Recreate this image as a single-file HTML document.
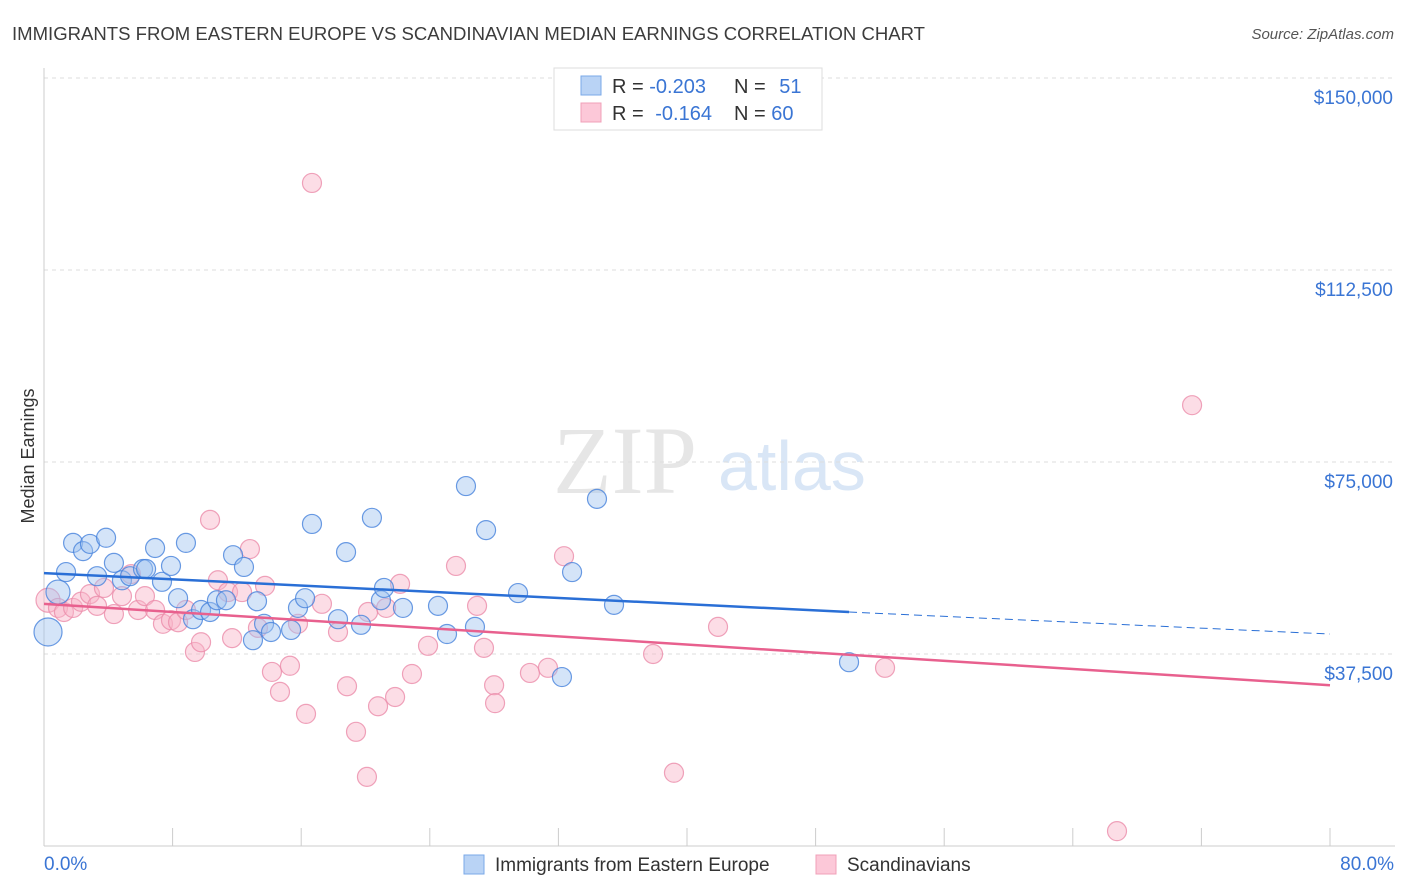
<!DOCTYPE html>
<html><head><meta charset="utf-8">
<style>
body{margin:0;background:#fff;font-family:"Liberation Sans",sans-serif;}
svg{display:block}
</style></head>
<body>
<svg id="chart" width="1406" height="892" xmlns="http://www.w3.org/2000/svg" font-family="Liberation Sans, sans-serif">
<text x="12" y="40" font-size="18" fill="#3c3c3c" textLength="913" lengthAdjust="spacingAndGlyphs">IMMIGRANTS FROM EASTERN EUROPE VS SCANDINAVIAN MEDIAN EARNINGS CORRELATION CHART</text>
<text x="1394" y="39" font-size="15" fill="#555" font-style="italic" text-anchor="end">Source: ZipAtlas.com</text>
<g>
<text x="553" y="493" font-size="96" font-family="Liberation Serif, serif" fill="#e6e6e6">ZIP</text>
<text x="718" y="490" font-size="70" fill="#d9e6f6">atlas</text>
</g>
<g id="grid"></g>
<g id="axes"></g>
<g id="marks"></g>
<text transform="translate(34,456) rotate(-90)" font-size="18" fill="#333" text-anchor="middle">Median Earnings</text>
<g>
<rect x="554" y="68" width="268" height="62" fill="#fff" stroke="#ddd"/>
<rect x="581" y="76" width="20" height="19" fill="#b9d3f5" stroke="#7aa8e8"/>
<rect x="581" y="103" width="20" height="19" fill="#fcc8d8" stroke="#f0a0b8"/>
<text x="612" y="93" font-size="20" fill="#333">R = <tspan fill="#3a75d4">-0.203</tspan></text>
<text x="734" y="93" font-size="20" fill="#333">N = <tspan fill="#3a75d4" dx="8">51</tspan></text>
<text x="612" y="120" font-size="20" fill="#333">R = <tspan fill="#3a75d4" dx="6">-0.164</tspan></text>
<text x="734" y="120" font-size="20" fill="#333">N = <tspan fill="#3a75d4">60</tspan></text>
</g>
<g>
<rect x="464" y="855" width="20" height="19" fill="#b9d3f5" stroke="#7aa8e8"/>
<text x="495" y="871" font-size="19" fill="#333">Immigrants from Eastern Europe</text>
<rect x="816" y="855" width="20" height="19" fill="#fcc8d8" stroke="#f0a0b8"/>
<text x="847" y="871" font-size="19" fill="#333">Scandinavians</text>
</g>
</svg>
<script>
const yTicks=[37500,75000,112500,150000];
const yTickLabels=["$37,500","$75,000","$112,500","$150,000"];
const xTickLabels=["0.0%","80.0%"];
const blueX=[0.87,0.25,1.37,1.81,2.43,2.86,3.30,3.86,4.35,4.85,5.35,6.16,6.35,6.91,7.34,7.90,8.34,8.83,9.27,9.77,10.33,10.76,11.32,11.76,12.44,13.25,13.69,14.12,15.37,15.80,16.24,16.67,18.29,18.79,19.72,20.40,20.96,21.15,22.33,24.51,25.07,26.25,26.81,27.50,29.49,32.85,32.22,34.40,35.46,50.08,13.0];
const blueY=[49600,41800,53500,59200,57600,59000,52700,60200,55300,51900,52700,54100,54100,58200,51600,54700,48400,59200,44300,46100,45700,48000,48000,56800,54500,47800,43400,41800,42200,46500,48400,62900,44300,57400,43200,64100,48000,50400,46500,46900,41400,70300,42800,61700,49400,53500,33000,67800,47100,35900,40200];
const blueR=[12,14,9.5,9.5,9.5,9.5,9.5,9.5,9.5,9.5,9.5,9.5,9.5,9.5,9.5,9.5,9.5,9.5,9.5,9.5,9.5,9.5,9.5,9.5,9.5,9.5,9.5,9.5,9.5,9.5,9.5,9.5,9.5,9.5,9.5,9.5,9.5,9.5,9.5,9.5,9.5,9.5,9.5,9.5,9.5,9.5,9.5,9.5,9.5,9.5,9.5];
const pinkX=[0.25,0.87,1.24,1.81,2.30,2.86,3.30,3.73,4.35,4.85,5.41,5.85,6.28,6.91,7.40,7.90,8.34,8.83,9.39,9.77,10.33,10.82,11.45,11.70,12.32,12.81,13.31,13.75,14.18,14.68,15.30,15.80,16.30,16.67,17.29,18.29,18.85,19.41,20.16,20.09,20.78,21.28,21.84,22.15,22.89,23.89,25.63,26.94,27.37,28.00,28.06,30.23,31.35,32.35,37.89,39.19,41.93,52.32,66.75,71.42];
const pinkY=[48000,46500,45700,46500,47700,49200,46900,50400,45300,48800,53100,46100,48800,46100,43400,44100,43700,46100,37900,39800,63700,51900,49600,40600,49600,58000,42600,50800,34000,30100,35200,43400,25800,129500,47300,41800,31200,22300,45700,13500,27300,46500,29100,51200,33600,39100,54700,46900,38700,31400,27900,33800,34800,56600,37500,14300,42800,34800,2900,86100];
const blueTrendX=[0,50.08,80];
const blueTrendY=[53300,45700,41400];
const pinkTrendX=[0,80];
const pinkTrendY=[47300,31400];

const NS="http://www.w3.org/2000/svg";
const X=v=>44+v/80*1286;
const Y=v=>846-v/37500*192;
function mk(t,a,p){const e=document.createElementNS(NS,t);for(const k in a)e.setAttribute(k,a[k]);p.appendChild(e);return e;}
const grid=document.getElementById('grid'),axes=document.getElementById('axes'),marks=document.getElementById('marks');
yTicks.forEach((t,i)=>{
  const l=mk('line',{x1:44,x2:1395,y1:Y(t),y2:Y(t),stroke:'#ddd','stroke-dasharray':'4,4'},grid);
  
  
  const tx=mk('text',{x:1393,y:Y(t)+26,'font-size':19,fill:'#3a75d4','text-anchor':'end'},axes);
  tx.textContent=yTickLabels[i];
  
  
});
const ax=mk('line',{x1:44,x2:1395,y1:846,y2:846,stroke:'#ccc'},axes);


const ay=mk('line',{x1:44,x2:44,y1:68,y2:846,stroke:'#ccc'},axes);


for(let i=0;i<=10;i++){
  const tk=mk('line',{x1:X(i*8),x2:X(i*8),y1:828,y2:846,stroke:'#ccc'},axes);
  
  
}
[[0,'start',44],[80,'end',1394]].forEach((d,i)=>{
  const tx=mk('text',{x:d[2],y:870,'font-size':19,fill:'#3a75d4','text-anchor':d[1]},axes);
  tx.textContent=xTickLabels[i];
  
  
});
pinkX.forEach((v,i)=>{
  const c=mk('circle',{cx:X(v),cy:Y(pinkY[i]),r:i==0?12:9.5,fill:'rgba(248,180,200,0.45)',stroke:'rgba(235,140,170,0.8)','stroke-width':1.2},marks);
  
  
});
blueX.forEach((v,i)=>{
  const c=mk('circle',{cx:X(v),cy:Y(blueY[i]),r:blueR[i],fill:'rgba(160,195,240,0.45)',stroke:'rgba(70,130,220,0.8)','stroke-width':1.2},marks);
  
  
});
const bt=mk('line',{x1:X(blueTrendX[0]),y1:Y(blueTrendY[0]),x2:X(blueTrendX[1]),y2:Y(blueTrendY[1]),stroke:'#2a6fd6','stroke-width':2.5},marks);


const bd=mk('line',{x1:X(blueTrendX[1]),y1:Y(blueTrendY[1]),x2:X(blueTrendX[2]),y2:Y(blueTrendY[2]),stroke:'#2a6fd6','stroke-width':1,'stroke-dasharray':'8,5'},marks);


const pt=mk('line',{x1:X(pinkTrendX[0]),y1:Y(pinkTrendY[0]),x2:X(pinkTrendX[1]),y2:Y(pinkTrendY[1]),stroke:'#e8608e','stroke-width':2.5},marks);


</script>
</body></html>
